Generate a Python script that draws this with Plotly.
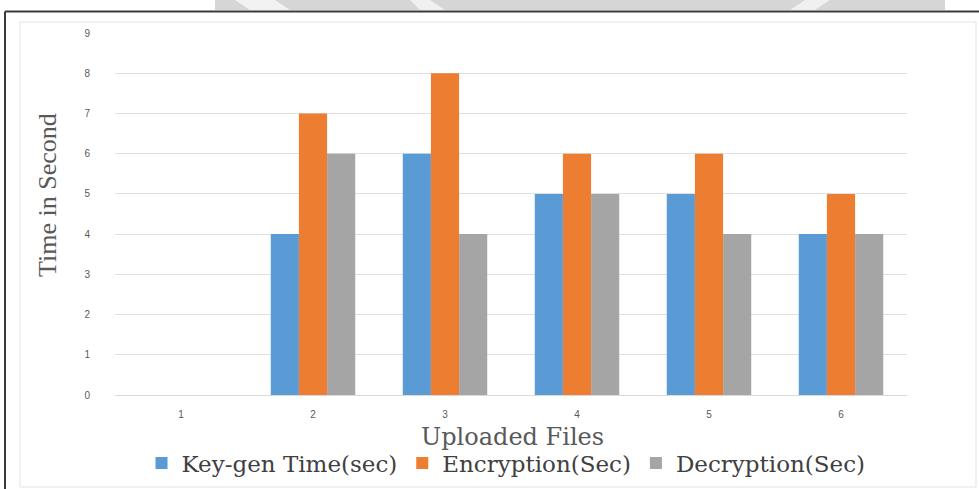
import plotly.graph_objects as go

categories = ["1", "2", "3", "4", "5", "6"]
keygen = [0, 4, 6, 5, 5, 4]
encryption = [0, 7, 8, 6, 6, 5]
decryption = [0, 6, 4, 5, 4, 4]
y_ticks = [0, 1, 2, 3, 4, 5, 6, 7, 8, 9]

series_names = ["Key-gen Time(sec)", "Encryption(Sec)", "Decryption(Sec)"]
colors = ["#5B9BD5", "#ED7D31", "#A5A5A5"]

fig = go.Figure()
for name, vals, col in zip(series_names, [keygen, encryption, decryption], colors):
    fig.add_trace(go.Bar(x=categories, y=vals, name=name, marker=dict(color=col, line=dict(width=0))))

W, H = 979, 489
ml, mr, mt, mb = 115, 72, 33, 94
PW = W - ml - mr
PH = H - mt - mb

def px(x):
    return (x - ml) / PW
def py(y):
    return (H - mb - y) / PH

shapes = [
    # watermark band at top
    dict(type="rect", xref="paper", yref="paper", x0=px(215), x1=px(945), y0=py(10), y1=py(0),
         fillcolor="#D6D6D6", line=dict(width=0), layer="below"),
    dict(type="path", xref="paper", yref="paper",
         path=f"M {px(235)},{py(0)} L {px(275)},{py(0)} L {px(290)},{py(10)} L {px(250)},{py(10)} Z",
         fillcolor="#F2F2F2", line=dict(width=0), layer="below"),
    dict(type="path", xref="paper", yref="paper",
         path=f"M {px(410)},{py(0)} L {px(430)},{py(0)} L {px(445)},{py(10)} L {px(420)},{py(10)} Z",
         fillcolor="#F0F0F0", line=dict(width=0), layer="below"),
    dict(type="path", xref="paper", yref="paper",
         path=f"M {px(790)},{py(10)} L {px(815)},{py(10)} L {px(830)},{py(0)} L {px(805)},{py(0)} Z",
         fillcolor="#F0F0F0", line=dict(width=0), layer="below"),
    # outer dark frame (top and left)
    dict(type="line", xref="paper", yref="paper", x0=px(5), x1=px(979), y0=py(11.5), y1=py(11.5),
         line=dict(color="#3A3A3A", width=2)),
    dict(type="line", xref="paper", yref="paper", x0=px(5), x1=px(5), y0=py(11.5), y1=py(489),
         line=dict(color="#3A3A3A", width=2)),
    # inner light chart border
    dict(type="rect", xref="paper", yref="paper", x0=px(20), x1=px(976), y0=py(487), y1=py(22),
         fillcolor="rgba(0,0,0,0)", line=dict(color="#E3E3E3", width=1)),
]

fig.update_layout(
    width=W, height=H,
    margin=dict(l=ml, r=mr, t=mt, b=mb),
    paper_bgcolor="white", plot_bgcolor="white",
    barmode="group", bargap=0.36, bargroupgap=0,
    showlegend=True,
    legend=dict(orientation="h", xref="container", yref="container",
                x=506 / W, xanchor="center", y=1 - 463 / H, yanchor="middle",
                font=dict(family="DejaVu Serif", size=23, color="#404040"),
                itemwidth=30, tracegroupgap=0, bgcolor="rgba(0,0,0,0)"),
    shapes=shapes,
    annotations=[
        dict(text="Uploaded Files", xref="paper", yref="paper", x=px(512), y=py(437),
             xanchor="center", yanchor="middle", showarrow=False,
             font=dict(family="DejaVu Serif", size=24, color="#595959")),
        dict(text="Time in Second", xref="paper", yref="paper", x=px(47), y=py(195),
             xanchor="center", yanchor="middle", showarrow=False, textangle=-90,
             font=dict(family="Liberation Serif", size=26, color="#595959")),
    ],
    xaxis=dict(showgrid=False, showline=False, zeroline=False, ticks="",
               tickfont=dict(family="Liberation Sans", size=10, color="#595959"),
               ticklabelstandoff=12),
    yaxis=dict(range=[0, 9], tickvals=y_ticks, showgrid=True, gridcolor="#E0E0E0", gridwidth=1,
               zeroline=True, zerolinecolor="#D9D9D9", zerolinewidth=1, showline=False, ticks="",
               tickfont=dict(family="Liberation Sans", size=10, color="#595959"),
               ticklabelstandoff=24),
)

fig.write_html(
    "out.html",
    config={"displayModeBar": False},
    post_script="document.body.style.margin='0';document.body.style.overflow='hidden';",
)
